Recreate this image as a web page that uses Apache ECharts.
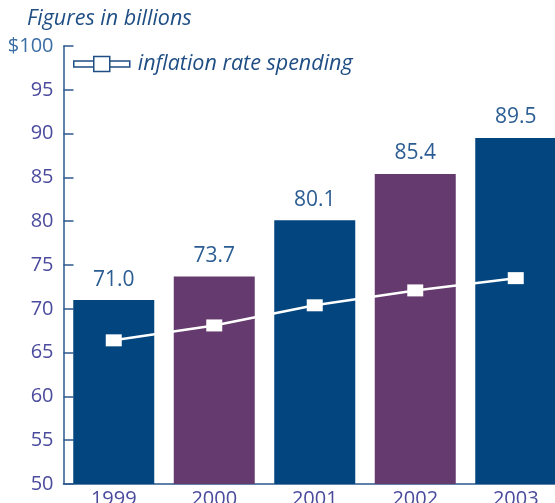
<!DOCTYPE html>
<html>
<head>
<meta charset="utf-8">
<script src="https://cdn.jsdelivr.net/npm/echarts@6/dist/echarts.min.js"></script>
<style>
  html, body { margin: 0; padding: 0; background: #fff; overflow: hidden; }
  #chart { width: 555px; height: 503px; }
</style>
</head>
<body>
<div id="chart"></div>
<script>
// data
var years = ["1999", "2000", "2001", "2002", "2003"];
var spending = [71.0, 73.7, 80.1, 85.4, 89.5];
var inflation = [66.4, 68.1, 70.4, 72.1, 73.5];
var barColors = ["#03457f", "#653a6e", "#03457f", "#653a6e", "#03457f"];

var blue = "#1f4e84";
var axisBlue = "#2c5a8f";
var labelPurple = "#4b4b9e";

var myChart = echarts.init(document.getElementById("chart"));

myChart.setOption({
  animation: false,
  title: {
    text: "Figures in billions",
    left: 22,
    top: 3,
    textStyle: {
      fontFamily: "Open Sans",
      fontStyle: "italic",
      fontWeight: "normal",
      fontSize: 21.5,
      color: blue
    }
  },
  legend: {
    left: 73,
    top: 53,
    padding: 0,
    itemWidth: 56,
    itemHeight: 15,
    icon: "path://M0,4.5 H20 V10.5 H0 Z M20,0 H36 V15 H20 Z M36,4.5 H56 V10.5 H36 Z",
    itemStyle: { color: "#fff", borderColor: blue, borderWidth: 1.5 },
    textStyle: {
      fontFamily: "Open Sans",
      fontStyle: "italic",
      fontSize: 21.5,
      color: blue,
      padding: [0, 0, 0, 3]
    },
    data: ["inflation rate spending"]
  },
  grid: { left: 63.5, right: -11, top: 46, bottom: 19, containLabel: false, outerBoundsMode: "none" },
  xAxis: {
    type: "category",
    data: years,
    axisLine: { lineStyle: { color: axisBlue, width: 1.5 } },
    axisTick: { show: false },
    axisLabel: {
      margin: 5,
      fontFamily: "Open Sans",
      fontSize: 20,
      color: labelPurple
    }
  },
  yAxis: {
    type: "value",
    min: 50,
    max: 100,
    interval: 5,
    splitLine: { show: false },
    axisLine: { show: true, lineStyle: { color: axisBlue, width: 1.5 } },
    axisTick: { show: true, inside: true, length: 10, lineStyle: { color: axisBlue, width: 1.5 } },
    axisLabel: {
      margin: 10,
      fontFamily: "Open Sans",
      fontSize: 20,
      color: function (v) { return Number(v) === 100 ? "#3a6ea5" : labelPurple; },
      formatter: function (v) { return v === 100 ? "$100" : String(v); }
    }
  },
  series: [
    {
      name: "spending",
      type: "bar",
      barWidth: 81,
      data: spending.map(function (v, i) {
        return { value: v, itemStyle: { color: barColors[i] } };
      }),
      label: {
        show: true,
        position: "top",
        distance: 10,
        fontFamily: "Open Sans",
        fontSize: 21,
        color: "#2b5d93",
        formatter: function (p) { return p.value.toFixed(1); }
      }
    },
    {
      name: "inflation rate spending",
      type: "line",
      data: inflation,
      symbol: "rect",
      symbolSize: [16, 12],
      itemStyle: { color: "#fff" },
      lineStyle: { color: "#fff", width: 2.5 },
      z: 5
    }
  ]
});
</script>
</body>
</html>
